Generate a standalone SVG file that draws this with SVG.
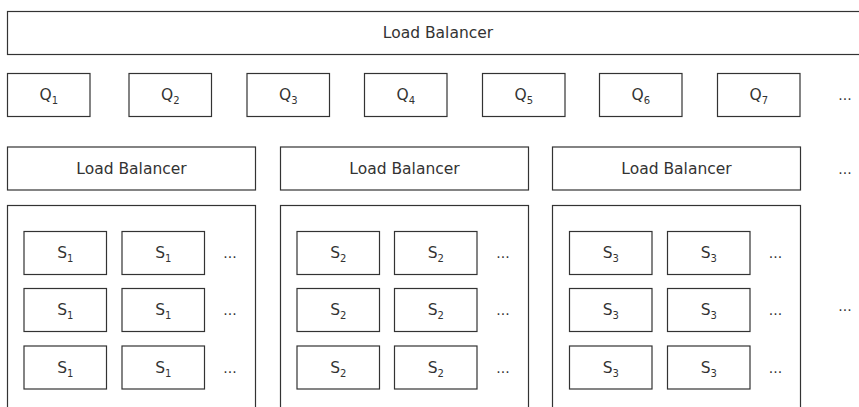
<svg xmlns="http://www.w3.org/2000/svg" width="859" height="407" viewBox="0 0 859 407">
<style>
.b{fill:#fff;stroke:#333;stroke-width:1.2}
.t{font-family:"DejaVu Sans",Verdana,sans-serif;font-size:15.5px;fill:#333;text-anchor:middle}
.s{font-size:10px}
.d{font-family:"DejaVu Sans",Verdana,sans-serif;font-size:14px;fill:#333;text-anchor:middle}
</style>
<rect width="859" height="407" fill="#fff"/>
<g id="lb-top"><rect class="b" x="7.5" y="11.5" width="861" height="43"/><text class="t" x="438" y="38">Load Balancer</text></g>
<g id="q1"><rect class="b" x="7.5" y="73.5" width="82.5" height="43"/><text class="t" x="48.75" y="100">Q<tspan class="s" dy="4">1</tspan></text></g>
<g id="q2"><rect class="b" x="129" y="73.5" width="82.5" height="43"/><text class="t" x="170.25" y="100">Q<tspan class="s" dy="4">2</tspan></text></g>
<g id="q3"><rect class="b" x="247" y="73.5" width="82.5" height="43"/><text class="t" x="288.25" y="100">Q<tspan class="s" dy="4">3</tspan></text></g>
<g id="q4"><rect class="b" x="364.5" y="73.5" width="82.5" height="43"/><text class="t" x="405.75" y="100">Q<tspan class="s" dy="4">4</tspan></text></g>
<g id="q5"><rect class="b" x="482.5" y="73.5" width="82.5" height="43"/><text class="t" x="523.75" y="100">Q<tspan class="s" dy="4">5</tspan></text></g>
<g id="q6"><rect class="b" x="599.5" y="73.5" width="82.5" height="43"/><text class="t" x="640.75" y="100">Q<tspan class="s" dy="4">6</tspan></text></g>
<g id="q7"><rect class="b" x="717.5" y="73.5" width="82.5" height="43"/><text class="t" x="758.75" y="100">Q<tspan class="s" dy="4">7</tspan></text></g>
<text class="d" x="845" y="100">...</text>
<g id="lb1"><rect class="b" x="7.5" y="147" width="248" height="43"/><text class="t" x="131.5" y="173.5">Load Balancer</text></g>
<g id="lb2"><rect class="b" x="280.5" y="147" width="248" height="43"/><text class="t" x="404.5" y="173.5">Load Balancer</text></g>
<g id="lb3"><rect class="b" x="552.5" y="147" width="248" height="43"/><text class="t" x="676.5" y="173.5">Load Balancer</text></g>
<text class="d" x="845" y="173.5">...</text>
<g id="cluster1">
<rect class="b" x="7.5" y="205.5" width="248" height="230"/>
<rect class="b" x="24" y="231.5" width="82.5" height="43"/><text class="t" x="65.25" y="258">S<tspan class="s" dy="4">1</tspan></text>
<rect class="b" x="122" y="231.5" width="82.5" height="43"/><text class="t" x="163.25" y="258">S<tspan class="s" dy="4">1</tspan></text>
<text class="d" x="230" y="258">...</text>
<rect class="b" x="24" y="288.5" width="82.5" height="43"/><text class="t" x="65.25" y="315">S<tspan class="s" dy="4">1</tspan></text>
<rect class="b" x="122" y="288.5" width="82.5" height="43"/><text class="t" x="163.25" y="315">S<tspan class="s" dy="4">1</tspan></text>
<text class="d" x="230" y="315">...</text>
<rect class="b" x="24" y="346" width="82.5" height="43"/><text class="t" x="65.25" y="372.5">S<tspan class="s" dy="4">1</tspan></text>
<rect class="b" x="122" y="346" width="82.5" height="43"/><text class="t" x="163.25" y="372.5">S<tspan class="s" dy="4">1</tspan></text>
<text class="d" x="230" y="372.5">...</text>
</g>
<g id="cluster2">
<rect class="b" x="280.5" y="205.5" width="248" height="230"/>
<rect class="b" x="297" y="231.5" width="82.5" height="43"/><text class="t" x="338.25" y="258">S<tspan class="s" dy="4">2</tspan></text>
<rect class="b" x="394.5" y="231.5" width="82.5" height="43"/><text class="t" x="435.75" y="258">S<tspan class="s" dy="4">2</tspan></text>
<text class="d" x="503" y="258">...</text>
<rect class="b" x="297" y="288.5" width="82.5" height="43"/><text class="t" x="338.25" y="315">S<tspan class="s" dy="4">2</tspan></text>
<rect class="b" x="394.5" y="288.5" width="82.5" height="43"/><text class="t" x="435.75" y="315">S<tspan class="s" dy="4">2</tspan></text>
<text class="d" x="503" y="315">...</text>
<rect class="b" x="297" y="346" width="82.5" height="43"/><text class="t" x="338.25" y="372.5">S<tspan class="s" dy="4">2</tspan></text>
<rect class="b" x="394.5" y="346" width="82.5" height="43"/><text class="t" x="435.75" y="372.5">S<tspan class="s" dy="4">2</tspan></text>
<text class="d" x="503" y="372.5">...</text>
</g>
<g id="cluster3">
<rect class="b" x="552.5" y="205.5" width="248" height="230"/>
<rect class="b" x="569.5" y="231.5" width="82.5" height="43"/><text class="t" x="610.75" y="258">S<tspan class="s" dy="4">3</tspan></text>
<rect class="b" x="667.5" y="231.5" width="82.5" height="43"/><text class="t" x="708.75" y="258">S<tspan class="s" dy="4">3</tspan></text>
<text class="d" x="775.5" y="258">...</text>
<rect class="b" x="569.5" y="288.5" width="82.5" height="43"/><text class="t" x="610.75" y="315">S<tspan class="s" dy="4">3</tspan></text>
<rect class="b" x="667.5" y="288.5" width="82.5" height="43"/><text class="t" x="708.75" y="315">S<tspan class="s" dy="4">3</tspan></text>
<text class="d" x="775.5" y="315">...</text>
<rect class="b" x="569.5" y="346" width="82.5" height="43"/><text class="t" x="610.75" y="372.5">S<tspan class="s" dy="4">3</tspan></text>
<rect class="b" x="667.5" y="346" width="82.5" height="43"/><text class="t" x="708.75" y="372.5">S<tspan class="s" dy="4">3</tspan></text>
<text class="d" x="775.5" y="372.5">...</text>
</g>
<text class="d" x="845" y="311">...</text>
<g id="connectors"/>
</svg>
